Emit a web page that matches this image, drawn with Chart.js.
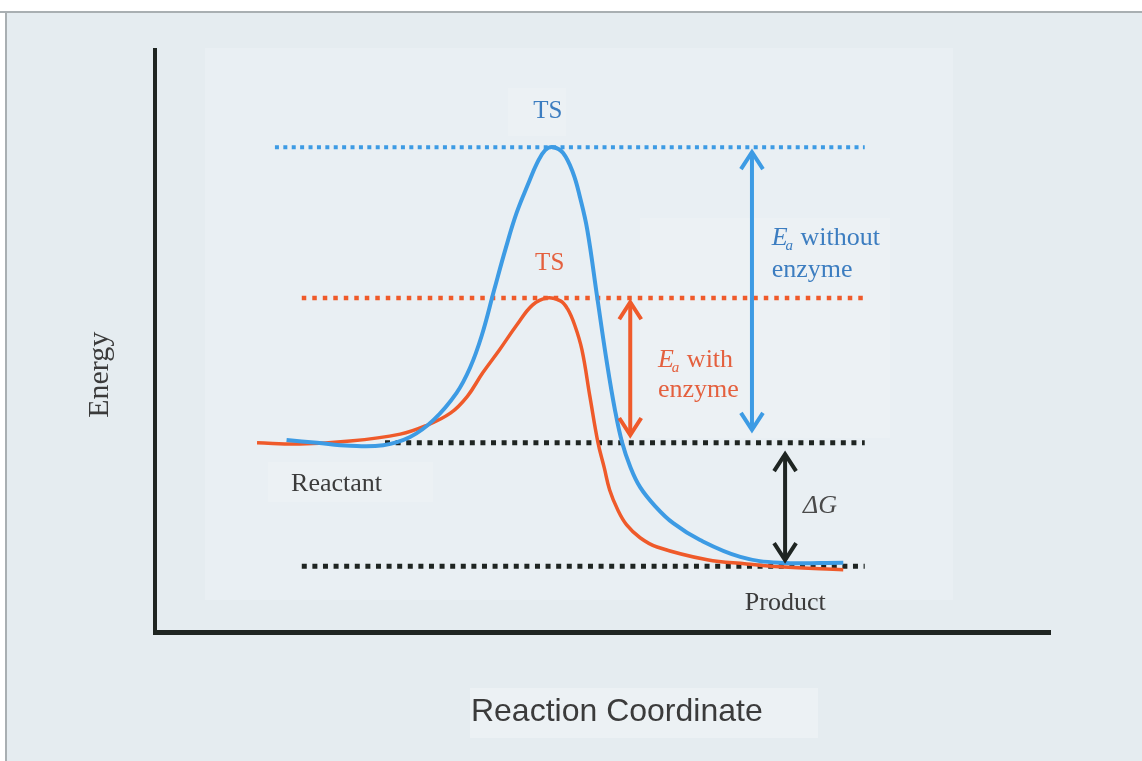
<!DOCTYPE html>
<html>
<head>
<meta charset="utf-8">
<title>Reaction energy diagram</title>
<script src="https://cdn.jsdelivr.net/npm/chart.js@4.4.1/dist/chart.umd.min.js"></script>
<style>
  html, body { margin: 0; padding: 0; background: #fff; }
  canvas { display: block; }
</style>
</head>
<body>
<canvas id="chart" width="1142" height="761"></canvas>
<script>
// reaction coordinate / energy (both 0-100)
var coordNoEnzyme  = [14.7, 18.1, 21.8, 25.5, 28.5, 31.1, 33.7, 35.2, 36.5, 37.9, 39.2, 40.4, 41.7, 42.7, 43.6, 44.5,
                      45.6, 46.7, 47.5, 48.3, 49.4, 50.5, 51.4, 52.2, 53.1, 54.2, 55.9, 57.9, 60.9, 65.4, 69.8, 76.9];
var energyNoEnzyme = [33.0, 32.5, 32.0, 32.1, 33.5, 36.4, 41.1, 45.4, 50.9, 58.8, 66.0, 72.0, 77.0, 80.6, 82.8, 83.3,
                      82.3, 78.9, 74.6, 69.1, 57.6, 46.2, 38.1, 32.5, 28.4, 24.9, 21.6, 18.7, 15.8, 12.9, 11.9, 11.9];
var coordEnzyme    = [11.4, 16.2, 21.8, 27.4, 30.2, 33.0, 34.9, 36.6, 38.5, 40.4, 42.2, 43.8, 45.3, 46.1, 46.9, 47.7,
                      48.6, 49.5, 50.2, 50.8, 51.7, 52.7, 54.2, 56.1, 61.7, 66.1, 69.8, 76.9];
var energyEnzyme   = [32.5, 32.3, 32.8, 34.0, 35.4, 37.6, 40.5, 44.5, 48.5, 52.7, 56.2, 57.4, 56.9, 55.5, 52.7, 48.5,
                      40.4, 32.5, 28.2, 24.4, 21.0, 18.4, 16.2, 14.6, 12.4, 11.7, 11.2, 10.7];

// dotted reference levels
var levelNames  = ["TS without enzyme", "TS with enzyme", "Reactant", "Product"];
var levelEnergy = [83.3, 57.4, 32.5, 11.3];
var levelFrom   = [13.4, 16.4, 25.7, 16.4];
var levelTo     = [79.3, 79.3, 79.3, 79.3];

// double arrows: Ea without enzyme, Ea with enzyme, deltaG
var arrowCoord  = [66.7, 53.1, 70.4];
var arrowTop    = [82.8, 57.0, 30.9];
var arrowBottom = [34.4, 33.5, 12.0];

var BLUE = "#3d9be4", RED = "#ef5a2a", DARK = "#1f2522";
var BLUE_TXT = "#3c7dc0", RED_TXT = "#e4603e", GREY_TXT = "#3b3b3b";
var SERIF = "'Liberation Serif', 'DejaVu Serif', serif";

function toPoints(xs, ys) {
    var pts = [];
    for (var i = 0; i < xs.length; i++) pts.push({x: xs[i], y: ys[i]});
    return pts;
}

var levelColors = [BLUE, RED, DARK, DARK];
var levelDash = [[4, 4.4], [4.5, 6], [5, 5.6], [5, 5.6]];
var levelWidth = [4, 4.5, 5, 5];

var datasets = [
    {label: "Without enzyme", data: toPoints(coordNoEnzyme, energyNoEnzyme), borderColor: BLUE, borderWidth: 4, tension: 0.4},
    {label: "With enzyme", data: toPoints(coordEnzyme, energyEnzyme), borderColor: RED, borderWidth: 3.5, tension: 0.4}
];
for (var i = 0; i < levelNames.length; i++) {
    datasets.push({
        label: levelNames[i],
        data: [{x: levelFrom[i], y: levelEnergy[i]}, {x: levelTo[i], y: levelEnergy[i]}],
        borderColor: levelColors[i],
        borderWidth: levelWidth[i],
        borderDash: levelDash[i],
        borderCapStyle: "butt"
    });
}

// scanned paper look behind the plot
var backdrop = {
    id: "backdrop",
    beforeDraw: function(chart) {
        var ctx = chart.ctx, w = chart.width, h = chart.height;
        ctx.save();
        ctx.fillStyle = "#ffffff";
        ctx.fillRect(0, 0, w, h);
        ctx.fillStyle = "#e5ecf0";
        ctx.fillRect(6, 12, w - 6, h - 12);
        ctx.fillStyle = "#e9eff3";
        ctx.fillRect(205, 48, 748, 552);
        ctx.fillStyle = "#ecf1f4";
        ctx.fillRect(508, 88, 58, 48);
        ctx.fillRect(640, 218, 250, 220);
        ctx.fillRect(268, 462, 165, 40);
        ctx.fillRect(470, 688, 348, 50);
        ctx.fillStyle = "#a9afb2";
        ctx.fillRect(0, 11, w, 2);
        ctx.fillRect(5, 11, 2, h - 11);
        ctx.restore();
    }
};

function drawArrow(ctx, x, yTop, yBot, color) {
    ctx.strokeStyle = color;
    ctx.lineWidth = 4;
    ctx.lineCap = "butt";
    ctx.lineJoin = "miter";
    ctx.beginPath();
    ctx.moveTo(x, yTop + 2);
    ctx.lineTo(x, yBot - 2);
    ctx.stroke();
    ctx.beginPath();
    ctx.moveTo(x - 11, yTop + 19);
    ctx.lineTo(x, yTop + 2);
    ctx.lineTo(x + 11, yTop + 19);
    ctx.moveTo(x - 11, yBot - 19);
    ctx.lineTo(x, yBot - 2);
    ctx.lineTo(x + 11, yBot - 19);
    ctx.stroke();
}

function drawEa(ctx, x, y, rest, color) {
    ctx.fillStyle = color;
    ctx.font = "italic 26px " + SERIF;
    ctx.fillText("E", x, y);
    var w = ctx.measureText("E").width;
    ctx.font = "italic 15px " + SERIF;
    ctx.fillText("a", x + w - 2, y + 5);
    var w2 = ctx.measureText("a").width;
    ctx.font = "26px " + SERIF;
    ctx.fillText(rest, x + w + w2 - 1, y);
}

var annotate = {
    id: "annotate",
    afterDatasetsDraw: function(chart) {
        var ctx = chart.ctx, sx = chart.scales.x, sy = chart.scales.y;
        var X = function(v) { return sx.getPixelForValue(v); };
        var Y = function(v) { return sy.getPixelForValue(v); };
        var arrowColors = [BLUE, RED, DARK];
        ctx.save();
        for (var i = 0; i < arrowCoord.length; i++)
            drawArrow(ctx, X(arrowCoord[i]), Y(arrowTop[i]), Y(arrowBottom[i]), arrowColors[i]);

        ctx.textBaseline = "alphabetic";
        ctx.textAlign = "center";
        ctx.font = "25px " + SERIF;
        ctx.fillStyle = BLUE_TXT;
        ctx.fillText("TS", X(43.9), Y(88.3));
        ctx.fillStyle = RED_TXT;
        ctx.fillText("TS", X(44.1), Y(62.2));

        ctx.textAlign = "left";
        drawEa(ctx, X(68.9), Y(66.5), " without", BLUE_TXT);
        ctx.fillText("enzyme", X(68.9), Y(61.0));
        drawEa(ctx, X(56.2), Y(45.5), " with", RED_TXT);
        ctx.fillText("enzyme", X(56.2), Y(40.4));

        ctx.fillStyle = "#4a4a4a";
        ctx.font = "italic 26px " + SERIF;
        ctx.fillText("\u0394G", X(72.4), Y(20.4));

        ctx.fillStyle = GREY_TXT;
        ctx.font = "26px " + SERIF;
        ctx.fillText("Reactant", X(15.2), Y(24.2));
        ctx.fillText("Product", X(65.9), Y(3.8));

        // axis names
        ctx.save();
        ctx.translate(X(-6.1), Y(44.2));
        ctx.rotate(-Math.PI / 2);
        ctx.textAlign = "center";
        ctx.textBaseline = "middle";
        ctx.font = "30px " + SERIF;
        ctx.fillText("Energy", 0, 0);
        ctx.restore();

        ctx.textAlign = "center";
        ctx.textBaseline = "middle";
        ctx.font = "32px 'Liberation Sans', Arial, sans-serif";
        ctx.fillText("Reaction Coordinate", X(51.6), Y(-13.7));
        ctx.restore();
    }
};

var hiddenAxis = function(width) {
    return {
        type: "linear", min: 0, max: 100,
        grid: {display: false, drawTicks: false},
        ticks: {display: false},
        border: {display: true, color: DARK, width: width},
        afterFit: function(s) { if (s.isHorizontal()) s.height = 0; else s.width = 0; }
    };
};

new Chart(document.getElementById("chart"), {
    type: "line",
    data: {datasets: datasets},
    options: {
        responsive: false,
        animation: false,
        layout: {padding: {left: 155, right: 92, top: 50, bottom: 129}},
        elements: {point: {radius: 0}},
        plugins: {legend: {display: false}, tooltip: {enabled: false}},
        scales: {x: hiddenAxis(5), y: hiddenAxis(4)}
    },
    plugins: [backdrop, annotate]
});
</script>
</body>
</html>
